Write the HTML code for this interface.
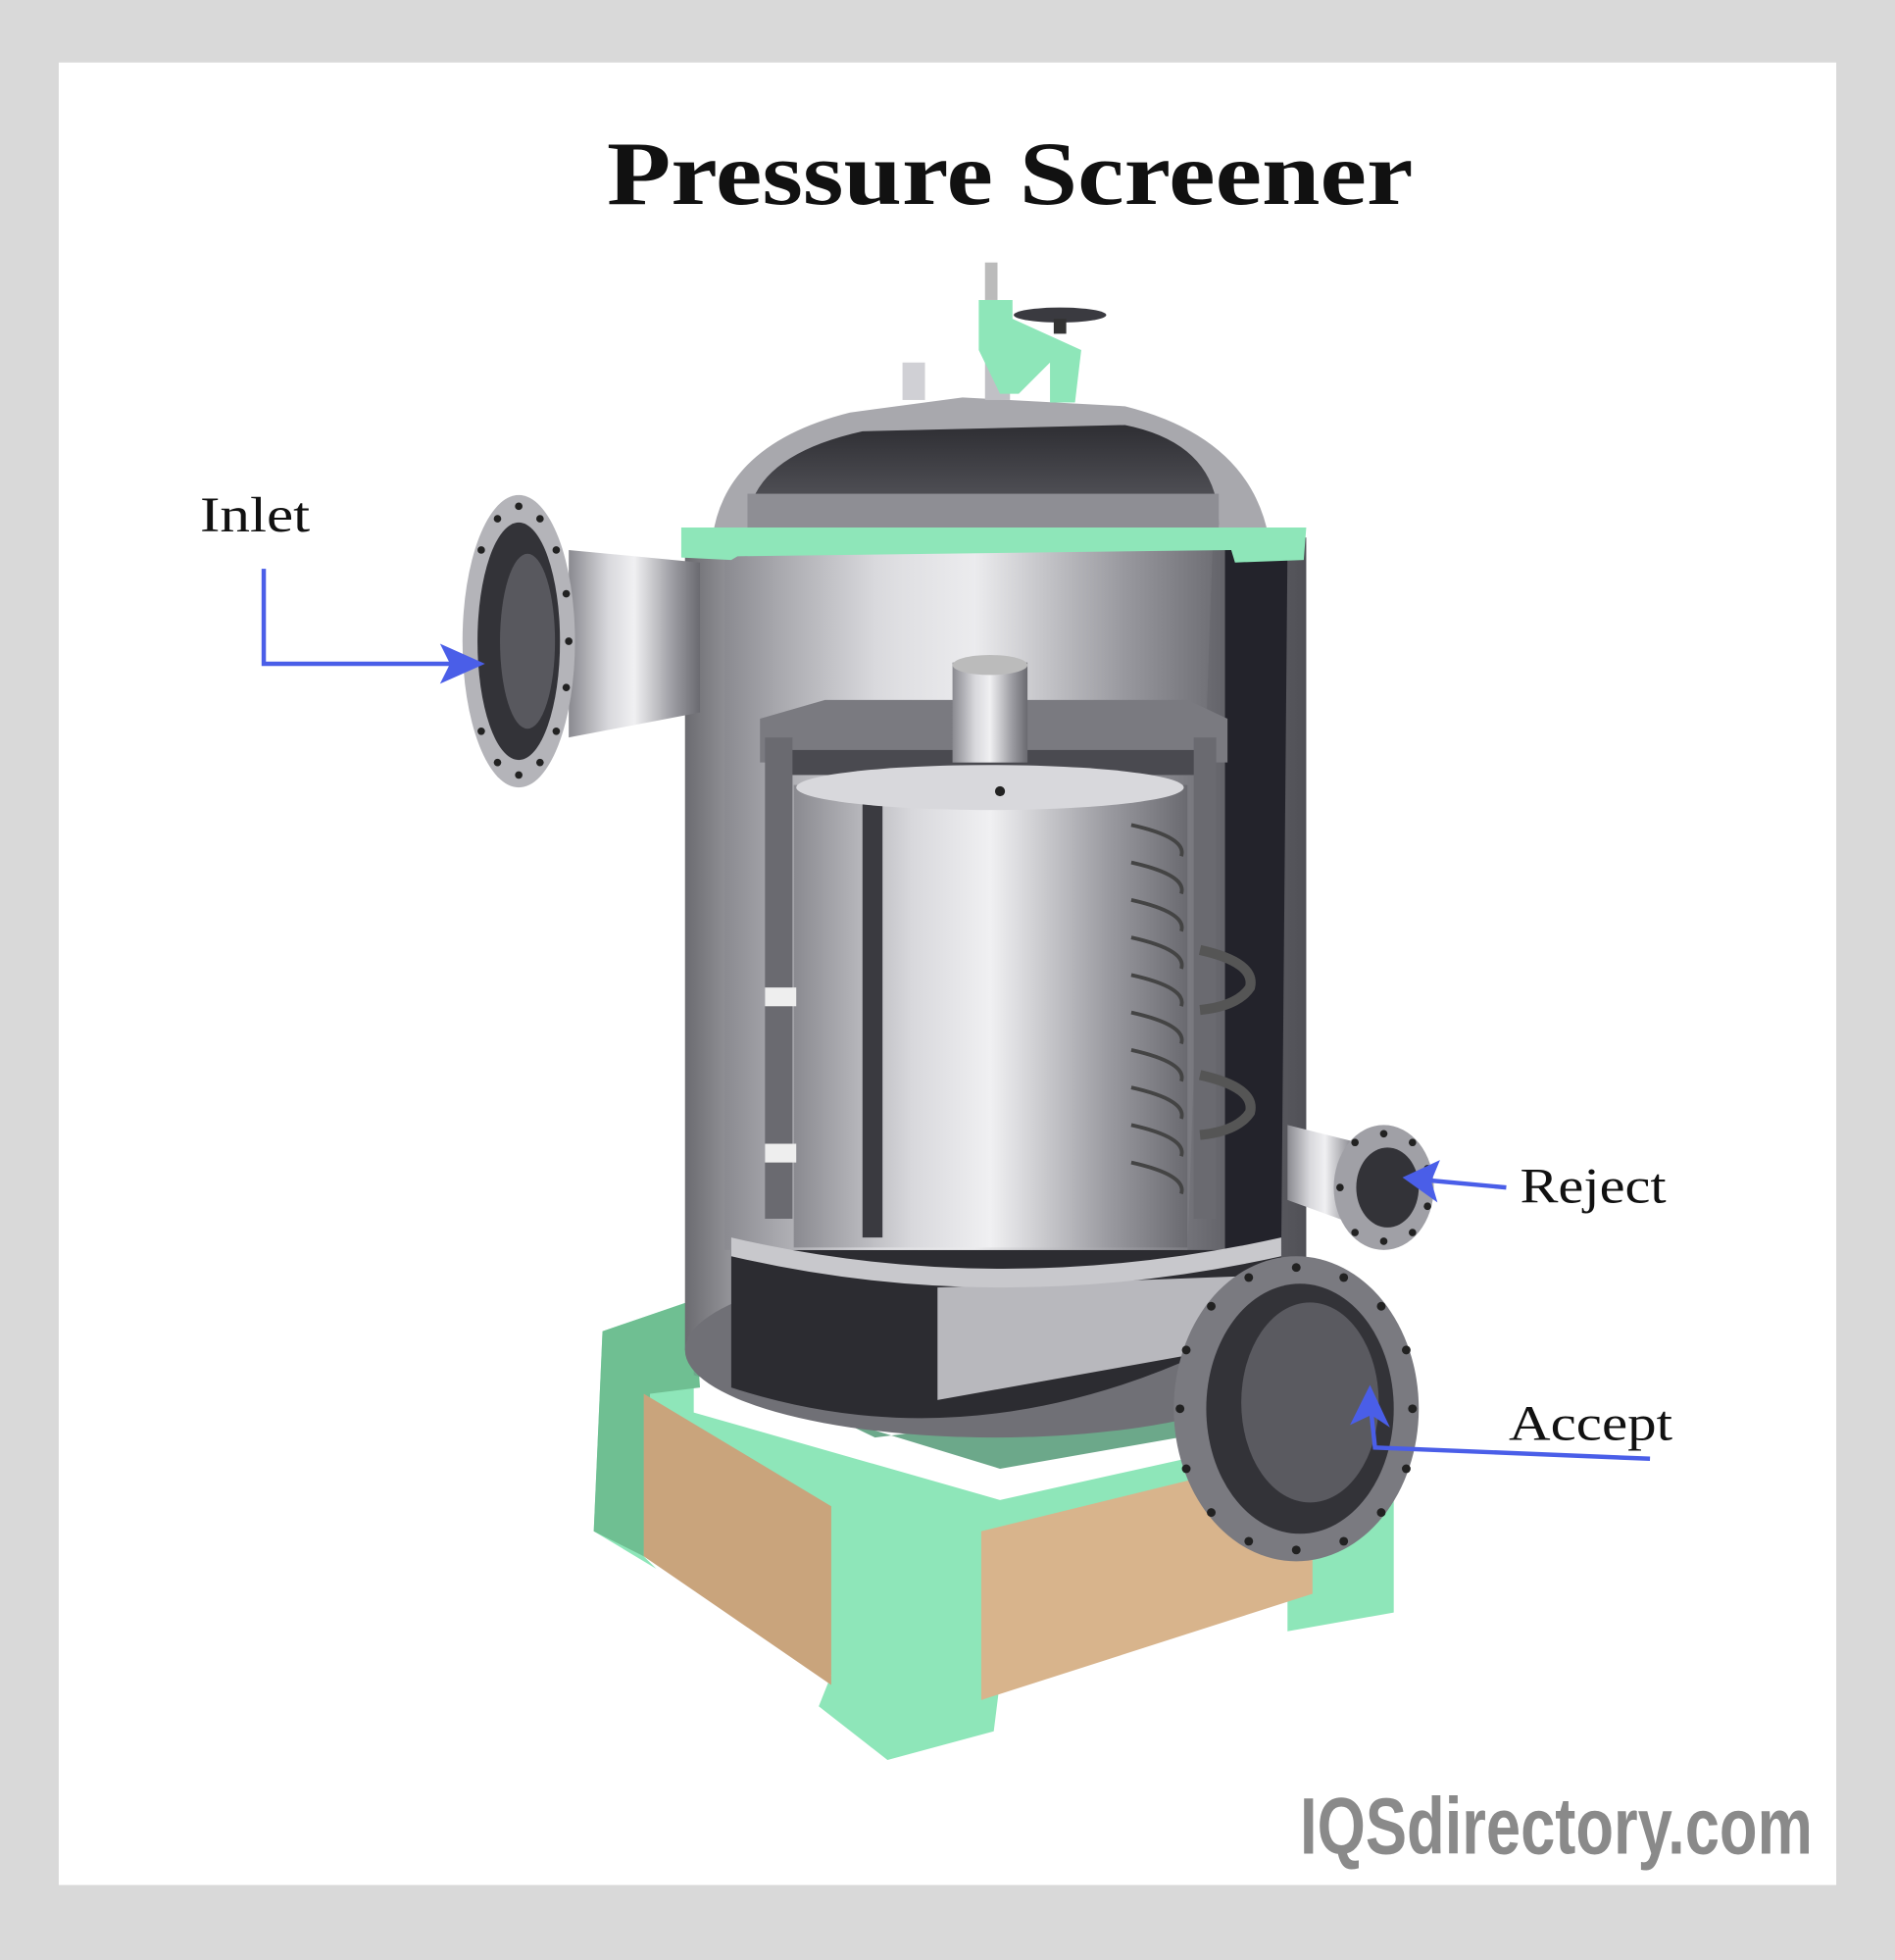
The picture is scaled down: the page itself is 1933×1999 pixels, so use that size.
<!DOCTYPE html>
<html><head><meta charset="utf-8"><style>
html,body{margin:0;padding:0;background:#d9d9d9}
svg{display:block}
</style></head><body>
<svg width="1933" height="1999" viewBox="0 0 1516 1568" preserveAspectRatio="none" xmlns="http://www.w3.org/2000/svg">
<defs>
<linearGradient id="met" x1="0" x2="1" y1="0" y2="0">
<stop offset="0" stop-color="#6b6b70"/><stop offset="0.15" stop-color="#bdbdc2"/><stop offset="0.35" stop-color="#e8e8ea"/><stop offset="0.6" stop-color="#9a9aa0"/><stop offset="1" stop-color="#505056"/></linearGradient>
<linearGradient id="met2" x1="0" x2="1" y1="0" y2="0">
<stop offset="0" stop-color="#8a8a90"/><stop offset="0.3" stop-color="#d8d8dc"/><stop offset="0.5" stop-color="#f0f0f2"/><stop offset="0.8" stop-color="#9a9aa0"/><stop offset="1" stop-color="#6a6a70"/></linearGradient>
<linearGradient id="dome" x1="0" x2="0" y1="0" y2="1">
<stop offset="0" stop-color="#2e2e33"/><stop offset="1" stop-color="#5c5c62"/></linearGradient>
</defs>
<rect width="1516" height="1568" fill="#d9d9d9"/>
<rect x="47" y="50" width="1422" height="1458" fill="#fff"/>
<text x="808" y="163" text-anchor="middle" font-family="Liberation Serif, serif" font-weight="bold" font-size="72" textLength="645" lengthAdjust="spacingAndGlyphs" fill="#111">Pressure Screener</text>

<!-- base -->
<polygon points="482,1065 555,1040 555,1130 800,1200 1115,1130 1115,1290 1030,1305 1030,1280 800,1345 795,1385 710,1408 655,1365 665,1340 515,1245 525,1255 475,1225" fill="#8ee6b9"/>
<polygon points="482,1065 555,1040 560,1110 520,1115 515,1245 475,1225" fill="#6fbf92"/>
<polygon points="515,1115 665,1205 665,1348 515,1245" fill="#c9a47c"/>
<polygon points="785,1225 1050,1160 1050,1275 785,1360" fill="#d8b48c"/>
<polygon points="555,1100 800,1175 1000,1140 940,1120 700,1150 555,1080" fill="#6ca88a"/>

<!-- vessel -->
<rect x="548" y="430" width="497" height="650" fill="url(#met)"/>
<ellipse cx="796" cy="1080" rx="248" ry="70" fill="#707076"/>
<path d="M585,1000 L1025,1000 L1025,1050 Q800,1180 585,1110 Z" fill="#2c2c31"/>
<path d="M750,1030 L1020,1020 L1030,1070 L750,1120 Z" fill="#b8b8bd"/>
<polygon points="970,440 1030,440 1025,1000 950,1000" fill="#23232b"/>
<rect x="580" y="440" width="400" height="560" fill="url(#met2)" opacity="0.9"/>
<path d="M585,990 Q800,1040 1025,990 L1025,1005 Q800,1055 585,1005 Z" fill="#c8c8cc"/>
<!-- dome -->
<path d="M570,430 Q580,355 680,330 L770,318 L900,325 Q1000,350 1015,430 Z" fill="#a8a8ad"/>
<path d="M598,420 Q600,365 690,345 L900,340 Q975,355 975,420 Z" fill="url(#dome)"/>
<rect x="598" y="395" width="377" height="30" fill="#8e8e94"/>
<polygon points="545,422 1045,422 1043,448 988,450 985,440 590,445 585,448 545,446" fill="#8ee6b9"/>
<rect x="722" y="290" width="18" height="30" fill="#d0d0d5"/>
<rect x="788" y="285" width="20" height="35" fill="#c0c0c5"/>
<polygon points="783,240 810,240 810,255 865,280 860,322 840,322 840,290 815,315 800,315 783,280" fill="#8ee6b9"/>
<rect x="788" y="210" width="10" height="30" fill="#bbb"/>
<ellipse cx="848" cy="252" rx="37" ry="6" fill="#3a3a40"/>
<rect x="843" y="255" width="10" height="12" fill="#333"/>

<!-- inner basket -->
<polygon points="608,575 660,560 950,560 982,575 982,610 608,610" fill="#7a7a80"/>
<rect x="620" y="600" width="340" height="20" fill="#4a4a50"/>
<rect x="635" y="628" width="315" height="370" fill="url(#met2)"/>
<rect x="690" y="640" width="16" height="350" fill="#3a3a40"/>
<g stroke="#444" stroke-width="3" fill="none">
<path d="M905,660 q45,10 40,25 M905,690 q45,10 40,25 M905,720 q45,10 40,25 M905,750 q45,10 40,25 M905,780 q45,10 40,25 M905,810 q45,10 40,25 M905,840 q45,10 40,25 M905,870 q45,10 40,25 M905,900 q45,10 40,25 M905,930 q45,10 40,25"/>
</g>
<ellipse cx="792" cy="630" rx="155" ry="18" fill="#d8d8dc"/>
<rect x="612" y="590" width="22" height="385" fill="#6a6a70"/>
<rect x="955" y="590" width="18" height="385" fill="#6a6a70"/>
<rect x="612" y="790" width="25" height="15" fill="#eee"/>
<rect x="612" y="915" width="25" height="15" fill="#eee"/>
<path d="M960,760 q45,10 40,30 q-10,15 -40,18" stroke="#555" stroke-width="8" fill="none"/>
<path d="M960,860 q45,10 40,30 q-10,15 -40,18" stroke="#555" stroke-width="8" fill="none"/>
<rect x="762" y="530" width="60" height="80" fill="url(#met2)"/>
<ellipse cx="792" cy="532" rx="30" ry="8" fill="#bbb"/>
<circle cx="800" cy="633" r="4" fill="#222"/>

<!-- inlet pipe -->
<polygon points="455,440 560,450 560,570 455,590" fill="url(#met2)"/>
<ellipse cx="415" cy="513" rx="45" ry="117" fill="#b4b4b9"/>
<ellipse cx="415" cy="513" rx="33" ry="95" fill="#333338"/>
<ellipse cx="422" cy="513" rx="22" ry="70" fill="#58585e"/>
<g fill="#222">
<circle cx="415" cy="405" r="3"/><circle cx="432" cy="415" r="3"/><circle cx="445" cy="440" r="3"/><circle cx="453" cy="475" r="3"/><circle cx="455" cy="513" r="3"/><circle cx="453" cy="550" r="3"/><circle cx="445" cy="585" r="3"/><circle cx="432" cy="610" r="3"/><circle cx="415" cy="620" r="3"/><circle cx="398" cy="610" r="3"/><circle cx="385" cy="585" r="3"/><circle cx="398" cy="415" r="3"/><circle cx="385" cy="440" r="3"/>
</g>
<!-- reject pipe -->
<polygon points="1030,900 1090,915 1085,980 1030,960" fill="url(#met2)"/>
<ellipse cx="1107" cy="950" rx="40" ry="50" fill="#a0a0a6"/>
<ellipse cx="1110" cy="950" rx="25" ry="32" fill="#333338"/>
<g fill="#222">
<circle cx="1107" cy="907" r="3"/><circle cx="1130" cy="914" r="3"/><circle cx="1142" cy="935" r="3"/><circle cx="1142" cy="965" r="3"/><circle cx="1130" cy="986" r="3"/><circle cx="1107" cy="993" r="3"/><circle cx="1084" cy="986" r="3"/><circle cx="1072" cy="950" r="3"/><circle cx="1084" cy="914" r="3"/>
</g>
<!-- accept pipe -->
<ellipse cx="1037" cy="1127" rx="98" ry="122" fill="#7a7a80"/>
<ellipse cx="1040" cy="1127" rx="75" ry="100" fill="#333338"/>
<ellipse cx="1048" cy="1122" rx="55" ry="80" fill="#5a5a60"/>
<g fill="#222">
<circle cx="1037" cy="1014" r="3.5"/><circle cx="1075" cy="1022" r="3.5"/><circle cx="1105" cy="1045" r="3.5"/><circle cx="1125" cy="1080" r="3.5"/><circle cx="1130" cy="1127" r="3.5"/><circle cx="1125" cy="1175" r="3.5"/><circle cx="1105" cy="1210" r="3.5"/><circle cx="1075" cy="1233" r="3.5"/><circle cx="1037" cy="1240" r="3.5"/><circle cx="999" cy="1233" r="3.5"/><circle cx="969" cy="1210" r="3.5"/><circle cx="949" cy="1175" r="3.5"/><circle cx="944" cy="1127" r="3.5"/><circle cx="949" cy="1080" r="3.5"/><circle cx="969" cy="1045" r="3.5"/><circle cx="999" cy="1022" r="3.5"/>
</g>

<!-- arrows -->
<g stroke="#4a5ee8" stroke-width="3.5" fill="none">
<polyline points="211,455 211,531 365,531"/>
<line x1="1205" y1="950" x2="1140" y2="944"/>
<polyline points="1320,1167 1100,1158 1097,1130"/>
</g>
<g fill="#4a5ee8">
<polygon points="388,531 352,515 360,531 352,547"/>
<polygon points="1122,942 1152,928 1145,945 1150,962"/>
<polygon points="1096,1108 1080,1140 1097,1132 1112,1142"/>
</g>

<g font-family="Liberation Serif, serif" font-size="40" fill="#111">
<text x="160" y="425" textLength="88" lengthAdjust="spacingAndGlyphs">Inlet</text>
<text x="1216" y="962" textLength="117" lengthAdjust="spacingAndGlyphs">Reject</text>
<text x="1207" y="1152" textLength="131" lengthAdjust="spacingAndGlyphs">Accept</text>
</g>
<text x="1040" y="1483" font-family="Liberation Sans Narrow, Liberation Sans, sans-serif" font-weight="bold" font-size="64" fill="#8a8a8a" textLength="410" lengthAdjust="spacingAndGlyphs">IQSdirectory.com</text>
</svg>
</body></html>
